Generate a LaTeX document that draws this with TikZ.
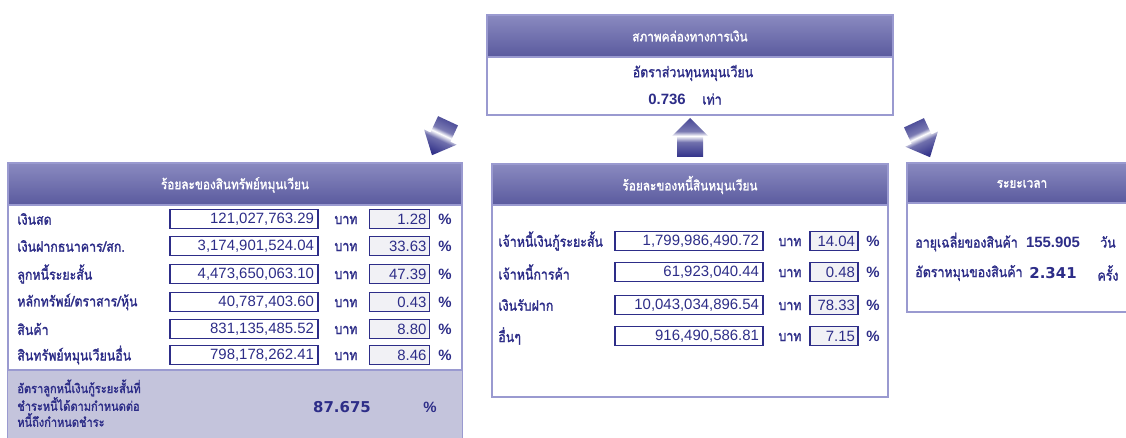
\documentclass[tikz,border=0pt]{standalone}
\usepackage{fontspec}
\setmainfont{Liberation Sans}
\newfontfamily\thaifont[Script=Thai,FakeStretch=0.86,AutoFakeBold=1.6]{Loma}
\newfontfamily\wideface{DejaVu Sans}
\definecolor{ink}{HTML}{2D2D88}
\definecolor{frame}{HTML}{9A9AD0}
\definecolor{hdrtop}{HTML}{8A8AC0}
\definecolor{hdrbot}{HTML}{5A5A9E}
\definecolor{greypanel}{HTML}{C4C4DC}
\definecolor{pctfill}{HTML}{F1F1F5}
\definecolor{arrowdark}{HTML}{33338A}
\pgfdeclareverticalshading{arrowshine}{100bp}{color(0bp)=(arrowdark); color(25bp)=(arrowdark);
  color(44bp)=(arrowdark!70); color(52bp)=(white); color(58bp)=(arrowdark!65);
  color(75bp)=(arrowdark!90); color(100bp)=(arrowdark!90)}
\begin{document}
\begin{tikzpicture}[x=0.02cm,y=0.02cm,
  hdr/.style={text=white,font=\thaifont\bfseries\fontsize{7.8}{8}\selectfont},
  lbl/.style={anchor=west,inner sep=0pt,text=ink,font=\thaifont\bfseries\fontsize{8.2}{9}\selectfont},
  note/.style={anchor=west,inner sep=0pt,text=ink,font=\thaifont\bfseries\fontsize{7.3}{8}\selectfont},
  unit/.style={inner sep=0pt,text=ink,font=\thaifont\bfseries\fontsize{8.2}{9}\selectfont},
  sign/.style={inner sep=0pt,text=ink,font=\bfseries\fontsize{8.5}{9}\selectfont},
  valbox/.style={draw=ink,fill=white,line width=0.7pt,inner xsep=0.08cm,inner ysep=0pt,
    text width=2.8cm,align=right,minimum height=0.37cm,text=ink,font=\fontsize{8.5}{9}\selectfont},
  pctbox/.style={draw=ink,fill=pctfill,line width=0.7pt,inner xsep=0.06cm,inner ysep=0pt,
    text width=#1,align=right,minimum height=0.37cm,text=ink,font=\fontsize{8.5}{9}\selectfont},
  bignum/.style={inner sep=0pt,text=ink,font=\wideface\bfseries\fontsize{8.5}{9}\selectfont},
  plainnum/.style={inner sep=0pt,text=ink,font=\bfseries\fontsize{8.5}{9}\selectfont},
  panel/.style={draw=frame,line width=0.8pt},
  band/.style={top color=hdrtop,bottom color=hdrbot,draw=frame,line width=0.8pt},
  bigarrow/.style={shading=arrowshine}]
\useasboundingbox (0,0) rectangle (1126,-438);
\clip (0,0) rectangle (1126,-438);

% top panel
\draw[panel,fill=white] (487,-15) rectangle (893,-115);
\draw[band] (487,-15) rectangle (893,-57);
\node[hdr] (hliq) at (690,-36) {สภาพคล่องทางการเงิน};
\node[unit] (tratio) at (693,-73) {อัตราส่วนทุนหมุนเวียน};
\node[plainnum] (vratio) at (667,-99) {0.736};
\node[unit] (uratio) at (712,-99) {เท่า};

% arrows
\begin{scope}[shift={(440,-138)},rotate=-25]
\shade[bigarrow,shading angle=-25] (-11,19) -- (11,19) -- (11,1) -- (18,1) -- (0,-19)
  -- (-18,1) -- (-11,1) -- cycle;
\end{scope}
\shade[bigarrow] (690,-118) -- (708,-136) -- (703,-136) -- (703,-157) -- (677,-157)
  -- (677,-136) -- (672,-136) -- cycle;
\begin{scope}[shift={(922,-140)},rotate=25]
\shade[bigarrow,shading angle=25] (-11,19) -- (11,19) -- (11,1) -- (18,1) -- (0,-19)
  -- (-18,1) -- (-11,1) -- cycle;
\end{scope}

% left panel
\draw[panel,fill=white] (8,-163) rectangle (462,-445);
\draw[band] (8,-163) rectangle (462,-205);
\fill[greypanel] (8,-370) rectangle (462,-445);
\draw[panel] (8,-370) -- (462,-370);
\node[hdr] (hasset) at (235,-185) {ร้อยละของสินทรัพย์หมุนเวียน};

\node[lbl] (la1) at (17,-219) {เงินสด};
\node[valbox] (va1) at (244,-219) {121,027,763.29};
\node[unit] (ua1) at (346,-220) {บาท};
\node[pctbox=1.08cm] (pa1) at (399.5,-219) {1.28};
\node[sign] (sa1) at (445,-219) {\%};

\node[lbl] (la2) at (17,-246) {เงินฝากธนาคาร/สก.};
\node[valbox] (va2) at (244,-246) {3,174,901,524.04};
\node[unit] (ua2) at (346,-247) {บาท};
\node[pctbox=1.08cm] (pa2) at (399.5,-246) {33.63};
\node[sign] (sa2) at (445,-246) {\%};

\node[lbl] (la3) at (17,-274) {ลูกหนี้ระยะสั้น};
\node[valbox] (va3) at (244,-274) {4,473,650,063.10};
\node[unit] (ua3) at (346,-275) {บาท};
\node[pctbox=1.08cm] (pa3) at (399.5,-274) {47.39};
\node[sign] (sa3) at (445,-274) {\%};

\node[lbl] (la4) at (17,-302) {หลักทรัพย์/ตราสาร/หุ้น};
\node[valbox] (va4) at (244,-302) {40,787,403.60};
\node[unit] (ua4) at (346,-303) {บาท};
\node[pctbox=1.08cm] (pa4) at (399.5,-302) {0.43};
\node[sign] (sa4) at (445,-302) {\%};

\node[lbl] (la5) at (17,-329) {สินค้า};
\node[valbox] (va5) at (244,-329) {831,135,485.52};
\node[unit] (ua5) at (346,-330) {บาท};
\node[pctbox=1.08cm] (pa5) at (399.5,-329) {8.80};
\node[sign] (sa5) at (445,-329) {\%};

\node[lbl] (la6) at (17,-355) {สินทรัพย์หมุนเวียนอื่น};
\node[valbox] (va6) at (244,-355) {798,178,262.41};
\node[unit] (ua6) at (346,-356) {บาท};
\node[pctbox=1.08cm] (pa6) at (399.5,-355) {8.46};
\node[sign] (sa6) at (445,-355) {\%};

\node[note] (lrepay1) at (17,-388) {อัตราลูกหนี้เงินกู้ระยะสั้นที่};
\node[note] (lrepay2) at (17,-404) {ชำระหนี้ได้ตามกำหนดต่อ};
\node[note] (lrepay3) at (17,-420) {หนี้ถึงกำหนดชำระ};
\node[bignum] (vrepay) at (342,-407) {87.675};
\node[sign] (srepay) at (430,-407) {\%};

% middle panel
\draw[panel,fill=white] (492,-164) rectangle (888,-397);
\draw[band] (492,-164) rectangle (888,-205);
\node[hdr] (hdebt) at (690,-185) {ร้อยละของหนี้สินหมุนเวียน};

\node[lbl] (lb1) at (498,-241) {เจ้าหนี้เงินกู้ระยะสั้น};
\node[valbox] (vb1) at (689,-241) {1,799,986,490.72};
\node[unit] (ub1) at (790,-242) {บาท};
\node[pctbox=0.84cm] (pb1) at (834,-241) {14.04};
\node[sign] (sb1) at (873,-241) {\%};

\node[lbl] (lb2) at (498,-272) {เจ้าหนี้การค้า};
\node[valbox] (vb2) at (689,-272) {61,923,040.44};
\node[unit] (ub2) at (790,-273) {บาท};
\node[pctbox=0.84cm] (pb2) at (834,-272) {0.48};
\node[sign] (sb2) at (873,-272) {\%};

\node[lbl] (lb3) at (498,-305) {เงินรับฝาก};
\node[valbox] (vb3) at (689,-305) {10,043,034,896.54};
\node[unit] (ub3) at (790,-306) {บาท};
\node[pctbox=0.84cm] (pb3) at (834,-305) {78.33};
\node[sign] (sb3) at (873,-305) {\%};

\node[lbl] (lb4) at (498,-336) {อื่นๆ};
\node[valbox] (vb4) at (689,-336) {916,490,586.81};
\node[unit] (ub4) at (790,-337) {บาท};
\node[pctbox=0.84cm] (pb4) at (834,-336) {7.15};
\node[sign] (sb4) at (873,-336) {\%};

% right panel
\draw[panel,fill=white] (907,-163) rectangle (1140,-312);
\draw[band] (907,-163) rectangle (1140,-203);
\node[hdr] (htime) at (1022,-184) {ระยะเวลา};
\node[lbl] (lc1) at (915,-242) {อายุเฉลี่ยของสินค้า};
\node[plainnum] (vc1) at (1053,-242) {155.905};
\node[unit] (uc1) at (1108,-242) {วัน};
\node[lbl] (lc2) at (915,-273) {อัตราหมุนของสินค้า};
\node[bignum] (vc2) at (1053,-273) {2.341};
\node[unit] (uc2) at (1108,-273) {ครั้ง};
\end{tikzpicture}
\end{document}
